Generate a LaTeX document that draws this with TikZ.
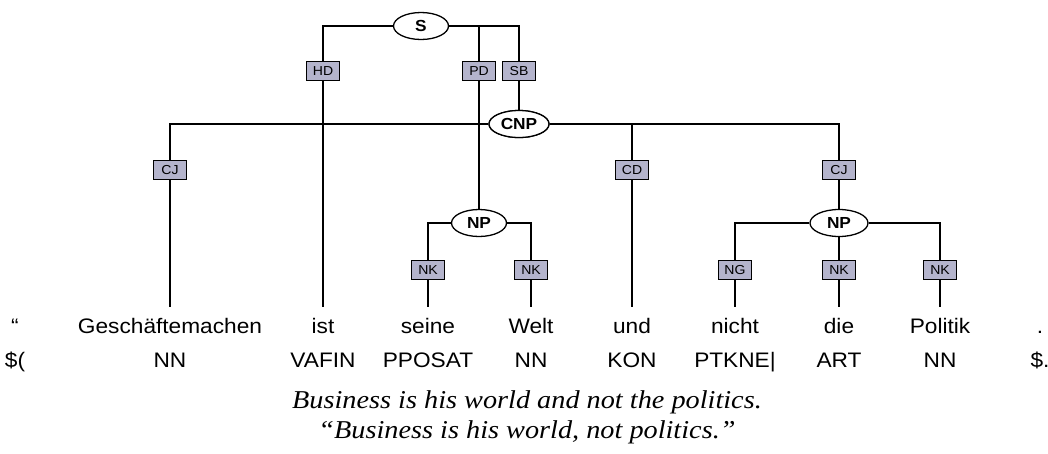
\documentclass[tikz,border=0pt]{standalone}
\usepackage{fontspec}
\usepackage{graphicx}
\setmainfont{Liberation Serif}
\setsansfont{Liberation Sans}
\newfontfamily\arialf{Liberation Sans}
\usetikzlibrary{shapes.geometric}
\definecolor{boxfill}{RGB}{180,180,204}
\newcommand{\sx}[1]{\scalebox{1.08}[1]{#1}}
\newcommand{\sxi}[1]{\scalebox{1.1}[1]{#1}}
\tikzset{
  cat/.style={ellipse, draw, line width=1.3pt, fill=white, minimum width=55pt, minimum height=27pt, inner sep=0pt, font=\arialf\bfseries\fontsize{16}{18}\selectfont},
  edgelab/.style={rectangle, draw, line width=1.3pt, fill=boxfill, minimum width=33pt, minimum height=19pt, inner sep=0pt, font=\arialf\fontsize{13}{14}\selectfont},
  word/.style={anchor=base, inner xsep=0pt, inner ysep=11pt, text height=15pt, text depth=4pt, font=\arialf\fontsize{21}{24}\selectfont},
  tag/.style={anchor=base, inner sep=0pt, font=\arialf\fontsize{21}{24}\selectfont},
  gloss/.style={anchor=base, inner sep=0pt, font=\itshape\fontsize{25.7}{30}\selectfont},
  conn/.style={line width=1.3pt}
}
\begin{document}
\begin{tikzpicture}[x=1pt,y=-1pt]
\useasboundingbox (0,0) rectangle (1048,453);
% words
\node[word] (w0) at (15,333) {\sx{\char"201C}};
\node[word] (w1) at (170,333) {\sx{Geschäftemachen}};
\node[word] (w2) at (323,333) {\sx{ist}};
\node[word] (w3) at (428,333) {\sx{seine}};
\node[word] (w4) at (531,333) {\sx{Welt}};
\node[word] (w5) at (632,333) {\sx{und}};
\node[word] (w6) at (735,333) {\sx{nicht}};
\node[word] (w7) at (839,333) {\sx{die}};
\node[word] (w8) at (940,333) {\sx{Politik}};
\node[word] (w9) at (1040,333) {\sx{.}};
% tags
\node[tag] (t0) at (15,367) {\sx{\$(}};
\node[tag] (t1) at (170,367) {\sx{NN}};
\node[tag] (t2) at (323,367) {\sx{VAFIN}};
\node[tag] (t3) at (428,367) {\sx{PPOSAT}};
\node[tag] (t4) at (531,367) {\sx{NN}};
\node[tag] (t5) at (632,367) {\sx{KON}};
\node[tag] (t6) at (735,367) {\sx{PTKNE|}};
\node[tag] (t7) at (839,367) {\sx{ART}};
\node[tag] (t8) at (940,367) {\sx{NN}};
\node[tag] (t9) at (1040,367) {\sx{\$.}};
% glosses
\node[gloss] (g1) at (527,408) {\sxi{Business is his world and not the politics.}};
\node[gloss] (g2) at (527,438) {\sxi{\char"201C Business is his world, not politics.\char"201D}};
% edge labels
\node[edgelab] (hd) at (323,71) {\sx{HD}};
\node[edgelab] (pd) at (479,71) {\sx{PD}};
\node[edgelab] (sb) at (519,71) {\sx{SB}};
\node[edgelab] (cj1) at (170,170) {\sx{CJ}};
\node[edgelab] (cd) at (632,170) {\sx{CD}};
\node[edgelab] (cj2) at (839,170) {\sx{CJ}};
\node[edgelab] (nk1) at (428,270) {\sx{NK}};
\node[edgelab] (nk2) at (531,270) {\sx{NK}};
\node[edgelab] (ng) at (735,270) {\sx{NG}};
\node[edgelab] (nk3) at (839,270) {\sx{NK}};
\node[edgelab] (nk4) at (940,270) {\sx{NK}};
% categories
\node[cat] (s) at (421,26) {\sx{S}};
\node[cat, minimum width=60pt] (cnp) at (519,124) {\sx{CNP}};
\node[cat] (np1) at (479,223) {\sx{NP}};
\node[cat, minimum width=58pt] (np2) at (839,223) {\sx{NP}};
% connectors
\begin{scope}[conn]
\draw (s.west) -| (hd.north);
\draw (s.east) -| (sb.north);
\draw (pd.north) -- (pd.north |- s.east);
\draw (hd.south) -- (w2.north);
\draw (pd.south) -- (np1.north);
\draw (sb.south) -- (cnp.north);
\draw (cnp.west) -| (cj1.north);
\draw (cnp.east) -| (cj2.north);
\draw (cd.north) -- (cd.north |- cnp.east);
\draw (cj1.south) -- (w1.north);
\draw (cd.south) -- (w5.north);
\draw (cj2.south) -- (np2.north);
\draw (np1.west) -| (nk1.north);
\draw (np1.east) -| (nk2.north);
\draw (nk1.south) -- (w3.north);
\draw (nk2.south) -- (w4.north);
\draw (np2.west) -| (ng.north);
\draw (np2.east) -| (nk4.north);
\draw (np2.south) -- (nk3.north);
\draw (ng.south) -- (w6.north);
\draw (nk3.south) -- (w7.north);
\draw (nk4.south) -- (w8.north);
\end{scope}
% redraw ellipse on top of the crossing line
\node[cat, minimum width=60pt] at (519,124) {\sx{CNP}};
\end{tikzpicture}
\end{document}
